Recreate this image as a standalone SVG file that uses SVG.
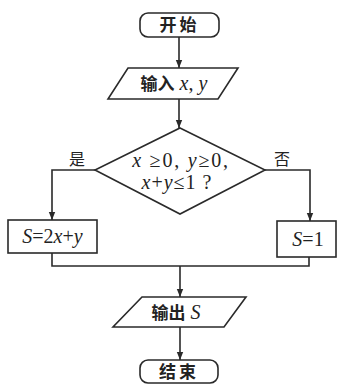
<svg xmlns="http://www.w3.org/2000/svg" width="352" height="385" viewBox="0 0 352 385">
<defs>
<style>
.s{fill:none;stroke:#2a2a2a;stroke-width:1.6}
.b{fill:#fff;stroke:#2a2a2a;stroke-width:1.6}
.cn{font-family:'Noto Sans CJK SC','Noto Sans CJK JP',sans-serif;font-size:17px;fill:#222;font-weight:bold}
.lb{font-family:'Noto Sans CJK SC','Noto Sans CJK JP',sans-serif;font-size:16px;fill:#222}
.t{font-family:'Liberation Serif','DejaVu Serif',serif;font-size:20px;fill:#222}
.m{font-style:italic}
</style>
<marker id="a" markerWidth="8" markerHeight="8" refX="8" refY="4" orient="auto" markerUnits="userSpaceOnUse">
<path d="M0,0.8 L8,4 L0,7.2 Z" fill="#2a2a2a"/>
</marker>
</defs>
<rect width="352" height="385" fill="#fff"/>
<g id="connectors">
<path class="s" d="M179,37 V68" marker-end="url(#a)"/>
<path class="s" d="M179,99 V128" marker-end="url(#a)"/>
<path class="s" d="M95,170 H52 V220" marker-end="url(#a)"/>
<path class="s" d="M265,170 H310 V221" marker-end="url(#a)"/>
<path class="s" d="M52,253 V266 H309 V257"/>
<path class="s" d="M180,266 V297" marker-end="url(#a)"/>
<path class="s" d="M180,327 V360" marker-end="url(#a)"/>
<text class="lb" x="77" y="165" text-anchor="middle">是</text>
<text class="lb" x="282" y="165" text-anchor="middle">否</text>
</g>
<g id="start">
<rect class="b" x="140" y="13" width="79" height="24" rx="8"/>
<text class="cn" x="179.5" y="31" text-anchor="middle" letter-spacing="3">开始</text>
</g>
<g id="input">
<polygon class="b" points="128,68 238,68 218,99 108,99"/>
<text class="t" x="174" y="90" text-anchor="middle"><tspan class="cn">输入</tspan><tspan class="m"> x</tspan>, <tspan class="m">y</tspan></text>
</g>
<g id="decision">
<polygon class="b" points="180,128 265,170 180,214 95,170"/>
<text class="t" x="181" y="167" text-anchor="middle" letter-spacing="1.8"><tspan class="m">x</tspan> ≥0, <tspan class="m">y</tspan>≥0,</text>
<text class="t" x="177" y="189" text-anchor="middle" letter-spacing="1"><tspan class="m">x</tspan>+<tspan class="m">y</tspan>≤1 ?</text>
</g>
<g id="yes-box">
<rect class="b" x="8" y="220" width="89" height="33"/>
<text class="t" x="52.5" y="243" text-anchor="middle"><tspan class="m">S</tspan>=2<tspan class="m">x</tspan>+<tspan class="m">y</tspan></text>
</g>
<g id="no-box">
<rect class="b" x="277" y="221" width="59" height="36"/>
<text class="t" x="308" y="246" text-anchor="middle"><tspan class="m">S</tspan>=1</text>
</g>
<g id="output">
<polygon class="b" points="142,297 246,297 224,327 113,327"/>
<text class="t" x="176" y="319" text-anchor="middle"><tspan class="cn">输出</tspan><tspan class="m"> S</tspan></text>
</g>
<g id="end">
<rect class="b" x="140" y="360" width="78" height="23" rx="8"/>
<text class="cn" x="179" y="378" text-anchor="middle" letter-spacing="3">结束</text>
</g>
</svg>
